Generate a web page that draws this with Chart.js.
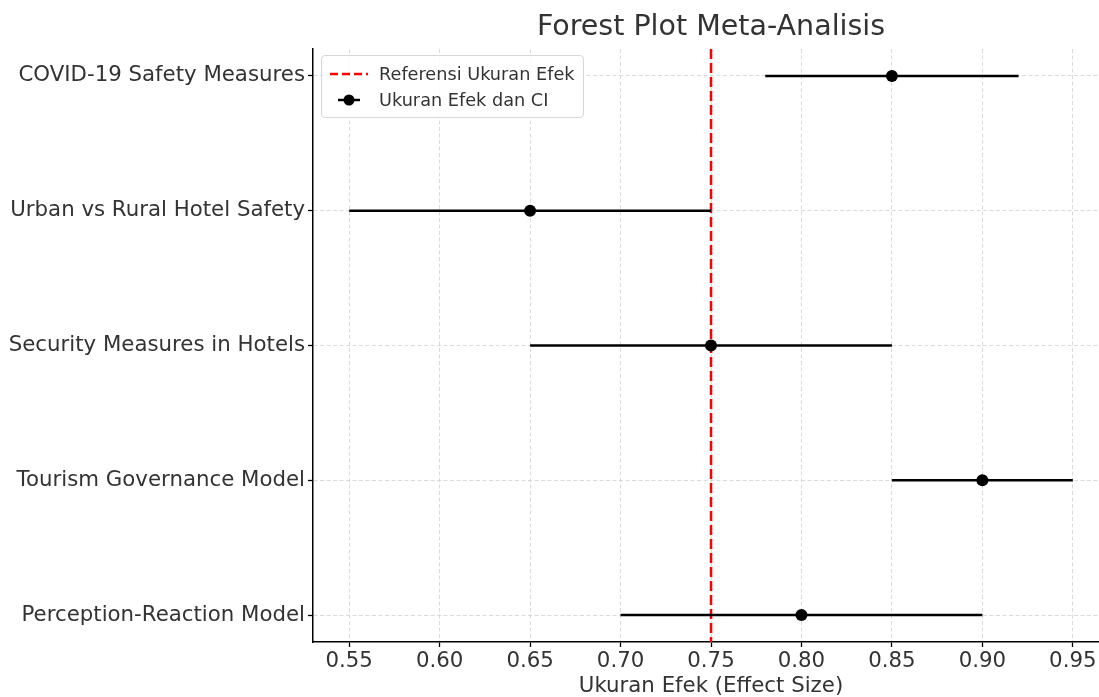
<!DOCTYPE html>
<html>
<head>
<meta charset="utf-8">
<script src="https://cdn.jsdelivr.net/npm/chart.js@4/dist/chart.umd.min.js"></script>
<style>
  html, body { margin: 0; padding: 0; background: #fff; overflow: hidden; }
  body { width: 1099px; height: 697px; position: relative; font-family: "DejaVu Sans", sans-serif; }
  #wrap { position: absolute; left: 0; top: 0; width: 1115px; height: 699px; }
  #title { position: absolute; left: 313px; width: 796px; top: 9px; text-align: center;
           font-size: 28.5px; color: #333; }
  #legend { position: absolute; left: 321px; top: 55px; width: 261px; height: 61px;
            border: 1px solid #d6d6d6; border-radius: 4px; background: rgba(255,255,255,0.85);
            font-size: 17.7px; color: #333; }
  .row { position: absolute; left: 0; height: 20px; }
  .row span { position: absolute; left: 57px; top: 0; white-space: nowrap; line-height: 20px; }
  .row canvas { position: absolute; left: 6px; top: 0; }
</style>
</head>
<body>
<div id="wrap"><canvas id="chart" width="1115" height="699"></canvas></div>
<div id="title">Forest Plot Meta-Analisis</div>
<div id="legend">
  <div class="row" style="top:8px"><canvas id="lg1" width="44" height="20"></canvas><span>Referensi Ukuran Efek</span></div>
  <div class="row" style="top:34px"><canvas id="lg2" width="44" height="20"></canvas><span>Ukuran Efek dan CI</span></div>
</div>
<script>
const studies = ['COVID-19 Safety Measures', 'Urban vs Rural Hotel Safety', 'Security Measures in Hotels',
                 'Tourism Governance Model', 'Perception-Reaction Model'];
const effect = [0.85, 0.65, 0.75, 0.90, 0.80];
const ciLow = [0.78, 0.55, 0.65, 0.85, 0.70];
const ciHigh = [0.92, 0.75, 0.85, 0.95, 0.90];
const refValue = 0.75;
const xTicks = [0.55, 0.60, 0.65, 0.70, 0.75, 0.80, 0.85, 0.90, 0.95];

const txt = '#333';
const gridCol = 'rgba(205,205,205,0.75)';
const labelFont = { family: 'DejaVu Sans', size: 21.3 };

// ikon legenda
(function() {
    const a = document.getElementById('lg1').getContext('2d');
    a.strokeStyle = '#ff0000'; a.lineWidth = 2.5; a.setLineDash([8, 4]);
    a.beginPath(); a.moveTo(2, 10); a.lineTo(40, 10); a.stroke();
    const b = document.getElementById('lg2').getContext('2d');
    b.strokeStyle = '#000'; b.lineWidth = 2.5;
    b.beginPath(); b.moveTo(10, 10); b.lineTo(32, 10); b.stroke();
    b.fillStyle = '#000'; b.beginPath(); b.arc(21, 10, 5.5, 0, Math.PI * 2); b.fill();
})();

const datasets = [];

// titik ukuran efek
datasets.push({
    type: 'scatter',
    data: effect.map((v, i) => ({ x: v, y: i })),
    backgroundColor: '#000',
    borderColor: '#000',
    borderWidth: 0,
    pointRadius: 6,
    pointHoverRadius: 6,
    order: 0
});

// garis CI
studies.forEach((s, i) => {
    datasets.push({
        type: 'line',
        data: [{ x: ciLow[i], y: i }, { x: ciHigh[i], y: i }],
        borderColor: '#000',
        borderWidth: 2.6,
        pointRadius: 0,
        order: 1
    });
});

// garis referensi
datasets.push({
    type: 'line',
    data: [{ x: refValue, y: -0.2 }, { x: refValue, y: studies.length - 0.8 }],
    borderColor: '#ff0000',
    borderWidth: 2.5,
    borderDash: [10, 4],
    pointRadius: 0,
    order: 2
});

new Chart(document.getElementById('chart').getContext('2d'), {
    type: 'scatter',
    data: { datasets: datasets },
    options: {
        responsive: false,
        animation: false,
        layout: { padding: { left: 0, top: 49, right: 3, bottom: 0 } },
        plugins: { legend: { display: false }, tooltip: { enabled: false }, title: { display: false } },
        scales: {
            x: {
                type: 'linear',
                min: 0.53,
                max: 0.97,
                afterBuildTicks: s => { s.ticks = xTicks.map(v => ({ value: v })); },
                afterFit: s => { s.height = 57; },
                ticks: {
                    color: txt,
                    font: labelFont,
                    padding: 2,
                    maxRotation: 0,
                    callback: v => v.toFixed(2)
                },
                grid: { color: gridCol, lineWidth: 1, tickColor: '#000', tickLength: 5, tickWidth: 1.3, tickBorderDash: [] },
                border: { display: true, color: '#000', width: 1.5, dash: [4, 2.5] },
                title: {
                    display: true,
                    text: 'Ukuran Efek (Effect Size)',
                    color: txt,
                    font: labelFont,
                    padding: { top: 0, bottom: 0 }
                }
            },
            y: {
                type: 'linear',
                reverse: true,
                min: -0.2,
                max: studies.length - 0.8,
                afterBuildTicks: s => { s.ticks = studies.map((_, i) => ({ value: i })); },
                afterFit: s => { s.width = 313; },
                ticks: {
                    color: txt,
                    font: labelFont,
                    padding: 3,
                    callback: v => studies[v]
                },
                grid: { color: gridCol, lineWidth: 1, tickColor: '#000', tickLength: 5, tickWidth: 1.3, tickBorderDash: [] },
                border: { display: true, color: '#000', width: 1.5, dash: [4, 2.5] }
            }
        }
    }
});
</script>
</body>
</html>
